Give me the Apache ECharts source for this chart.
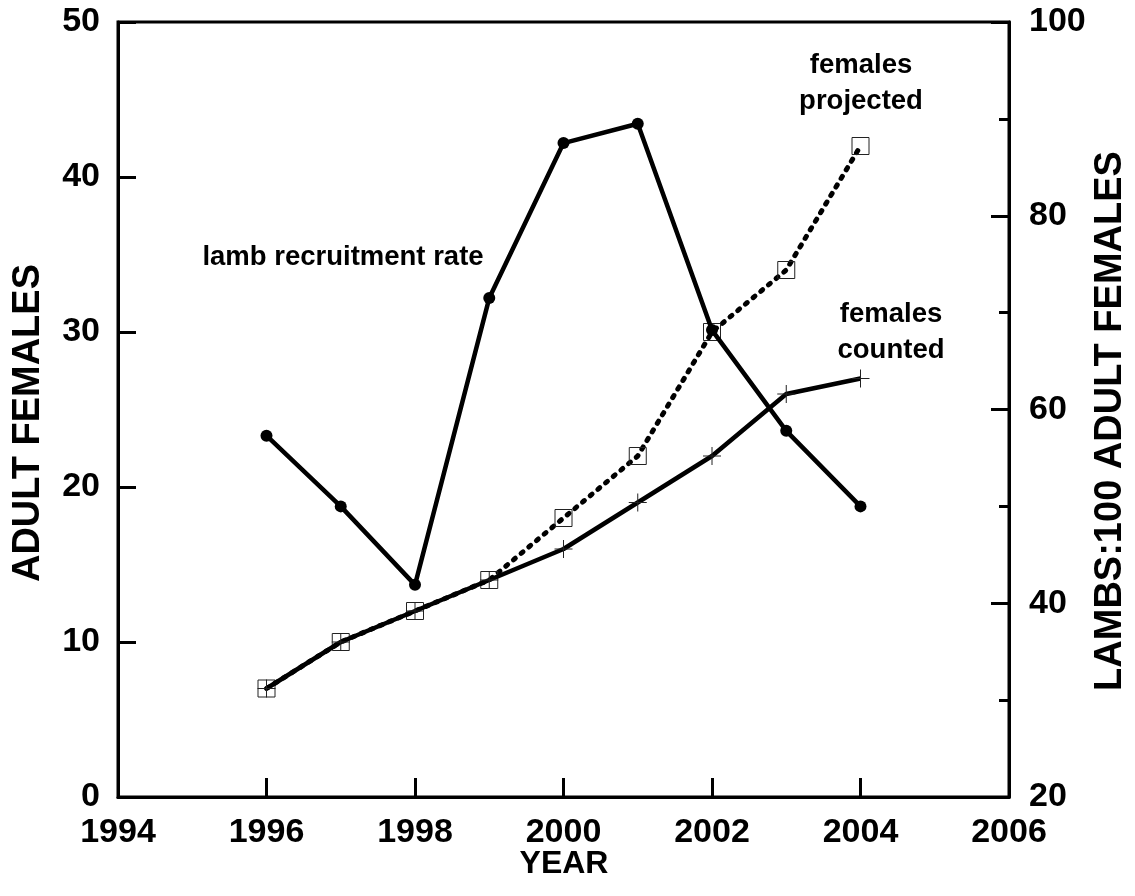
<!DOCTYPE html>
<html>
<head>
<meta charset="utf-8">
<script src="https://cdn.jsdelivr.net/npm/echarts@6/dist/echarts.min.js"></script>
<style>
  html, body { margin: 0; padding: 0; background: #fff; }
  #chart { width: 1135px; height: 896px; }
</style>
</head>
<body>
<div id="chart"></div>
<script>
// Survey years
const years = [1996, 1997, 1998, 1999, 2000, 2001, 2002, 2003, 2004];
// Adult females actually counted (left axis)
const femalesCounted = [7, 10, 12, 14, 16, 19, 22, 26, 27];
// Adult females projected (left axis)
const femalesProjected = [7, 10, 12, 14, 18, 22, 30, 34, 42];
// Lambs per 100 adult females (right axis)
const lambRate = [57.3, 50.0, 41.9, 71.5, 87.5, 89.5, 68.2, 57.8, 50.0];

const FONT = "'Liberation Sans', Arial, sans-serif";
const pair = arr => years.map((y, i) => [y, arr[i]]);

const axisLineStyle = { color: '#000', width: 3 };
const tickLabel = { color: '#000', fontFamily: FONT, fontWeight: 'bold', fontSize: 34 };

const chart = echarts.init(document.getElementById('chart'), null, { renderer: 'canvas' });

chart.setOption({
  animation: false,
  backgroundColor: '#fff',
  grid: {
    left: 118, right: 126, top: 22, bottom: 99,
    show: true, borderColor: '#000', borderWidth: 3, backgroundColor: 'transparent'
  },
  xAxis: {
    type: 'value', min: 1994, max: 2006, interval: 2,
    axisLine: { show: true, lineStyle: axisLineStyle },
    axisTick: { show: true, inside: true, length: 19, lineStyle: axisLineStyle },
    axisLabel: Object.assign({
      margin: 19, showMinLabel: true, showMaxLabel: true,
      formatter: v => String(v)
    }, tickLabel),
    splitLine: { show: false }
  },
  yAxis: [
    {
      type: 'value', position: 'left', min: 0, max: 50, interval: 10,
      axisLine: { show: true, lineStyle: axisLineStyle },
      axisTick: { show: true, inside: true, length: 18, lineStyle: axisLineStyle },
      axisLabel: Object.assign({ margin: 18 }, tickLabel),
      splitLine: { show: false }
    },
    {
      type: 'value', position: 'right', min: 20, max: 100, interval: 20,
      axisLine: { show: true, lineStyle: axisLineStyle },
      axisTick: { show: true, inside: true, length: 18, lineStyle: axisLineStyle },
      minorTick: { show: true, splitNumber: 2, length: 10, lineStyle: axisLineStyle },
      axisLabel: Object.assign({ margin: 20 }, tickLabel),
      splitLine: { show: false }
    }
  ],
  series: [
    {
      name: 'females projected',
      type: 'line', yAxisIndex: 0,
      data: pair(femalesProjected),
      symbol: 'rect', symbolSize: 17,
      itemStyle: { color: 'transparent', borderColor: '#222', borderWidth: 1 },
      lineStyle: { color: '#000', width: 5, type: [2.5, 7.5], cap: 'round' },
      z: 2
    },
    {
      name: 'females counted',
      type: 'line', yAxisIndex: 0,
      data: pair(femalesCounted),
      symbol: 'path://M10,0L10,20M0,10L20,10', symbolSize: 18,
      itemStyle: { color: 'transparent', borderColor: '#222', borderWidth: 1 },
      lineStyle: { color: '#000', width: 4.5 },
      z: 3
    },
    {
      name: 'lamb recruitment rate',
      type: 'line', yAxisIndex: 1,
      data: pair(lambRate),
      symbol: 'circle', symbolSize: 12,
      itemStyle: { color: '#000' },
      lineStyle: { color: '#000', width: 4.5 },
      z: 4
    }
  ],
  graphic: [
    {
      type: 'text', x: 29, y: 423, rotation: Math.PI / 2,
      style: { text: 'ADULT FEMALES', font: "bold 38px " + FONT, fill: '#000', align: 'center', verticalAlign: 'middle' }
    },
    {
      type: 'text', x: 1111, y: 421, rotation: Math.PI / 2,
      style: { text: 'LAMBS:100 ADULT FEMALES', font: "bold 38px " + FONT, fill: '#000', align: 'center', verticalAlign: 'middle' }
    },
    {
      type: 'text', x: 564, y: 864,
      style: { text: 'YEAR', font: "bold 32px " + FONT, fill: '#000', align: 'center', verticalAlign: 'middle' }
    },
    {
      type: 'text', x: 343, y: 257,
      style: { text: 'lamb recruitment rate', font: "bold 27.5px " + FONT, fill: '#000', align: 'center', verticalAlign: 'middle' }
    },
    {
      type: 'text', x: 861, y: 83,
      style: { text: 'females\nprojected', font: "bold 27.5px " + FONT, lineHeight: 36, fill: '#000', align: 'center', verticalAlign: 'middle' }
    },
    {
      type: 'text', x: 891, y: 332,
      style: { text: 'females\ncounted', font: "bold 27.5px " + FONT, lineHeight: 36, fill: '#000', align: 'center', verticalAlign: 'middle' }
    }
  ]
});
</script>
</body>
</html>
